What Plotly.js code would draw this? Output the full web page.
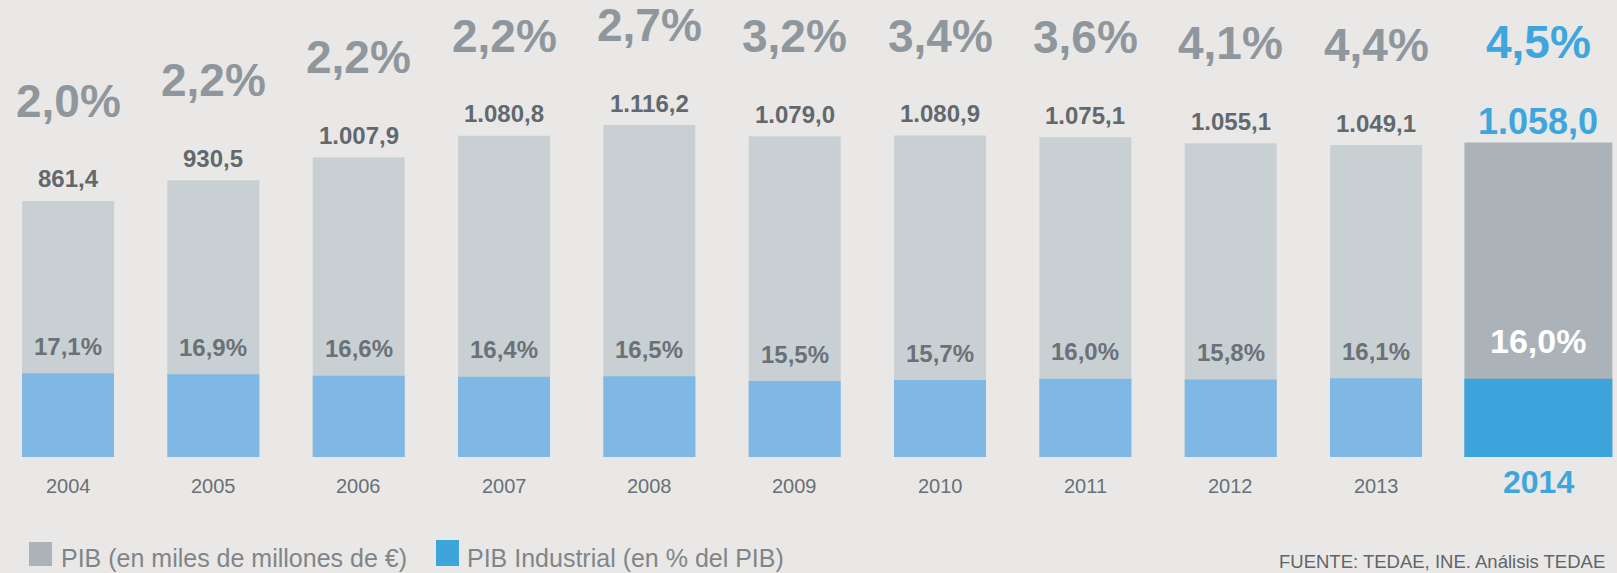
<!DOCTYPE html>
<html>
<head>
<meta charset="utf-8">
<script src="https://cdn.plot.ly/plotly-3.0.1.min.js"></script>
<style>
html,body{margin:0;padding:0;background:#e9e8e6;}
#chart{width:1617px;height:573px;}
</style>
</head>
<body>
<div id="chart"></div>
<script>
// ---- data ----
const years = ['2004','2005','2006','2007','2008','2009','2010','2011','2012','2013','2014'];
const pib = [861.4, 930.5, 1007.9, 1080.8, 1116.2, 1079.0, 1080.9, 1075.1, 1055.1, 1049.1, 1058.0];
const pibIndustrialPct = [17.1, 16.9, 16.6, 16.4, 16.5, 15.5, 15.7, 16.0, 15.8, 16.1, 16.0];
const topPct = [2.0, 2.2, 2.2, 2.2, 2.7, 3.2, 3.4, 3.6, 4.1, 4.4, 4.5];
const legendLabels = ['PIB (en miles de millones de €)', 'PIB Industrial (en % del PIB)'];
const sourceText = 'FUENTE: TEDAE, INE. Análisis TEDAE';

// ---- helpers ----
const FONT = 'Liberation Sans, Arial, sans-serif';
const W = 1617, H = 573, PLOT_H = 457;
const hl = years.length - 1;
function fmtNum(v) {
  const parts = v.toFixed(1).split('.');
  const intPart = parts[0].replace(/\B(?=(\d{3})+(?!\d))/g, '.');
  return intPart + ',' + parts[1];
}
function fmtPct(v) { return v.toFixed(1).replace('.', ',') + '%'; }
const px = x => x / W;
const py = y => (PLOT_H - y) / PLOT_H;

const greyCol = years.map((y, i) => i === hl ? '#abb2b8' : '#c9d0d3');
const blueCol = years.map((y, i) => i === hl ? '#3ea5dc' : '#7fb8e4');
const widths = years.map((y, i) => i === hl ? 1.018 : 0.633);
const offsets = years.map((y, i) => i === hl ? -0.392 : -0.3165);
const shiftX = i => i === hl ? 17 : 0;

const traces = [
  {
    type: 'bar', x: years, y: pib, yaxis: 'y',
    marker: {color: greyCol, line: {width: 0}},
    width: widths, offset: offsets, hoverinfo: 'skip', showlegend: false
  },
  {
    type: 'bar', x: years, y: pibIndustrialPct, yaxis: 'y2',
    marker: {color: blueCol, line: {width: 0}},
    width: widths, offset: offsets, hoverinfo: 'skip', showlegend: false
  }
];

const annotations = [];
years.forEach((yr, i) => {
  const isH = i === hl;
  // big percentage label above
  annotations.push({
    x: i, y: pib[i], xref: 'x', yref: 'y', text: '<b>' + fmtPct(topPct[i]) + '</b>',
    showarrow: false, xanchor: 'center', yanchor: 'middle', yshift: 100, xshift: shiftX(i),
    font: {family: FONT, size: 46, color: isH ? '#3ea5dd' : '#8f979d'}
  });
  // PIB value label
  annotations.push({
    x: i, y: pib[i], xref: 'x', yref: 'y', text: '<b>' + fmtNum(pib[i]) + '</b>',
    showarrow: false, xanchor: 'center', yanchor: 'middle', yshift: isH ? 21 : 22, xshift: shiftX(i),
    font: {family: FONT, size: isH ? 36 : 24, color: isH ? '#3ea5dd' : '#62696e'}
  });
  // industrial pct label
  annotations.push({
    x: i, y: pibIndustrialPct[i], xref: 'x', yref: 'y2', text: '<b>' + fmtPct(pibIndustrialPct[i]) + '</b>',
    showarrow: false, xanchor: 'center', yanchor: 'middle', yshift: isH ? 38 : 27, xshift: shiftX(i),
    font: {family: FONT, size: isH ? 34 : 24, color: isH ? '#ffffff' : '#6b7277'}
  });
  // year label
  annotations.push({
    x: i, y: 0, xref: 'x', yref: 'y', text: isH ? '<b>' + yr + '</b>' : yr,
    showarrow: false, xanchor: 'center', yanchor: 'middle', yshift: isH ? -25 : -29, xshift: shiftX(i),
    font: {family: FONT, size: isH ? 32 : 20, color: isH ? '#3ea5dd' : '#6a7075'}
  });
});

// legend texts
annotations.push({
  x: px(59), y: py(558), xref: 'paper', yref: 'paper', text: legendLabels[0],
  showarrow: false, xanchor: 'left', yanchor: 'middle',
  font: {family: FONT, size: 25, color: '#818589'}
});
annotations.push({
  x: px(465), y: py(558), xref: 'paper', yref: 'paper', text: legendLabels[1],
  showarrow: false, xanchor: 'left', yanchor: 'middle',
  font: {family: FONT, size: 25, color: '#818589'}
});
annotations.push({
  x: px(1607), y: py(561), xref: 'paper', yref: 'paper', text: sourceText,
  showarrow: false, xanchor: 'right', yanchor: 'middle',
  font: {family: FONT, size: 18.5, color: '#5f656a'}
});

const shapes = [
  {type: 'rect', xref: 'paper', yref: 'paper', x0: px(29), x1: px(52), y0: py(566), y1: py(542),
   fillcolor: '#abb2b8', line: {width: 0}},
  {type: 'rect', xref: 'paper', yref: 'paper', x0: px(436), x1: px(459), y0: py(566), y1: py(540),
   fillcolor: '#3ea5dc', line: {width: 0}}
];

const layout = {
  width: W, height: H,
  margin: {l: 0, r: 0, t: 0, b: H - PLOT_H, pad: 0},
  paper_bgcolor: '#e9e8e6', plot_bgcolor: '#e9e8e6',
  barmode: 'overlay',
  xaxis: {type: 'category', range: [-0.468, 10.658], showgrid: false, zeroline: false,
          showline: false, showticklabels: false, ticks: '', fixedrange: true},
  yaxis: {range: [0, 1537], visible: false, fixedrange: true},
  yaxis2: {range: [0, 93.3], overlaying: 'y', visible: false, fixedrange: true},
  showlegend: false,
  annotations: annotations,
  shapes: shapes,
  font: {family: FONT}
};

Plotly.newPlot('chart', traces, layout, {displayModeBar: false, staticPlot: true});
</script>
</body>
</html>
